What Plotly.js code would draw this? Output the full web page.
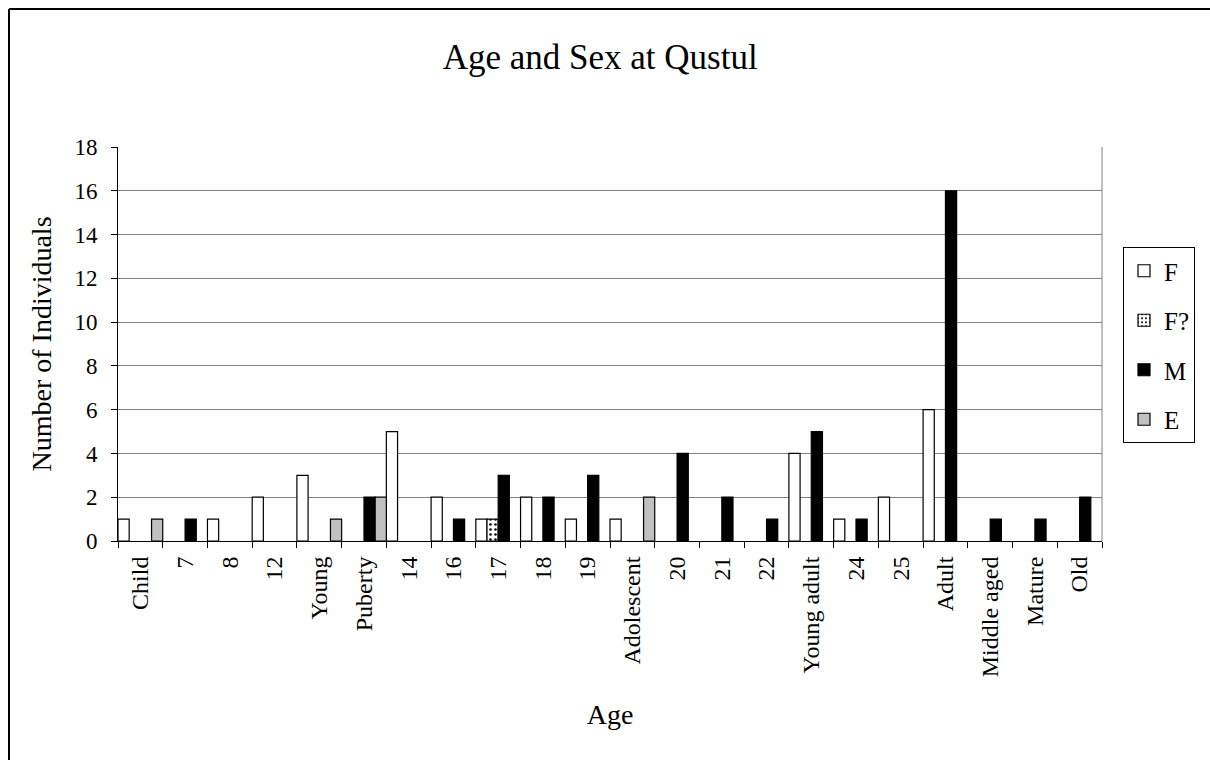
<!DOCTYPE html>
<html>
<head>
<meta charset="utf-8">
<script src="https://cdn.plot.ly/plotly-3.0.1.min.js"></script>
<style>html,body{margin:0;padding:0;background:#fff;}#chart{width:1210px;height:760px;}</style>
</head>
<body>
<div id="chart"></div>
<script>
const categories = ["Child","7","8","12","Young","Puberty","14","16","17","18","19","Adolescent","20","21","22","Young adult","24","25","Adult","Middle aged","Mature","Old"];
const seriesF  = [1,0,1,2,3,0,5,2,1,2,1,1,0,0,0,4,1,2,6,0,0,0];
const seriesFq = [0,0,0,0,0,0,0,0,1,0,0,0,0,0,0,0,0,0,0,0,0,0];
const seriesM  = [0,1,0,0,0,2,0,1,3,2,3,0,4,2,1,5,1,0,16,1,1,2];
const seriesE  = [1,0,0,0,1,2,0,0,0,0,0,2,0,0,0,0,0,0,0,0,0,0];
const seriesNames = ["F","F?","M","E"];

const nz = a => a.map(v => v === 0 ? null : v);
const FONT = "Liberation Serif, Times New Roman, serif";
const line = {color: "#000", width: 1.2};

const traces = [
  {type:"bar", name:seriesNames[0], x:categories, y:nz(seriesF), legendgroup:"a",
   marker:{color:"#fff", line:line}},
  {type:"bar", name:seriesNames[1], x:categories, y:nz(seriesFq), legendgroup:"b",
   marker:{color:"#fff", line:line, pattern:{shape:".", fgcolor:"#000", bgcolor:"#fff", size:5, solidity:0.2}}},
  {type:"bar", name:seriesNames[2], x:categories, y:nz(seriesM), legendgroup:"c",
   marker:{color:"#000", line:line}},
  {type:"bar", name:seriesNames[3], x:categories, y:nz(seriesE), legendgroup:"d",
   marker:{color:"#c0c0c0", line:line}}
];

const L = 118, R = 1102, T = 147, B = 541, W = 1210, H = 760;
const px = v => (v - L) / (R - L);
const py = v => (B - v) / (B - T);

const layout = {
  width: W, height: H,
  margin: {l: L, r: W - R, t: T, b: H - B, pad: 0},
  paper_bgcolor: "#fff", plot_bgcolor: "#fff",
  font: {family: FONT, color: "#000", size: 20},
  title: {text: "Age and Sex at Qustul", font: {family: FONT, size: 35, color: "#000"},
          x: 0.496, xanchor: "center", y: 1 - 57/760, yanchor: "middle", xref: "container", yref: "container"},
  barmode: "group", bargap: 0, bargroupgap: 0,
  showlegend: true,
  legend: {x: px(1123), xanchor: "left", y: py(247), yanchor: "top",
           bordercolor: "#000", borderwidth: 1, bgcolor: "#fff",
           font: {family: FONT, size: 25, color: "#000"}, tracegroupgap: 14, traceorder: "grouped"},
  xaxis: {type: "category", showline: true, linecolor: "#000", linewidth: 1,
          ticks: "outside", tickson: "boundaries", ticklen: 6, tickcolor: "#000",
          tickangle: -90, tickfont: {family: FONT, size: 24, color: "#000"}, ticklabelstandoff: 5,
          showgrid: false, automargin: false,
          title: {text: "Age", font: {family: FONT, size: 28, color: "#000"}, standoff: 28}},
  yaxis: {range: [0, 18], dtick: 2, tick0: 0, showline: true, linecolor: "#000", linewidth: 1,
          ticks: "outside", ticklen: 6, tickcolor: "#000",
          tickfont: {family: FONT, size: 23, color: "#000"}, ticklabelstandoff: 9,
          showgrid: true, gridcolor: "#808080", gridwidth: 1, zeroline: false, automargin: false,
          title: {text: "Number of Individuals", font: {family: FONT, size: 28, color: "#000"}, standoff: 14}},
  shapes: [
    {type: "line", xref: "paper", yref: "paper", x0: 1, x1: 1, y0: 0, y1: 1, line: {color: "#808080", width: 1}},
    {type: "line", xref: "paper", yref: "paper", x0: px(9), x1: px(1210), y0: py(9), y1: py(9), line: {color: "#000", width: 2}},
    {type: "line", xref: "paper", yref: "paper", x0: px(9), x1: px(9), y0: py(9), y1: py(760), line: {color: "#000", width: 2}}
  ]
};

Plotly.newPlot("chart", traces, layout, {displayModeBar: false, staticPlot: true});
</script>
</body>
</html>
